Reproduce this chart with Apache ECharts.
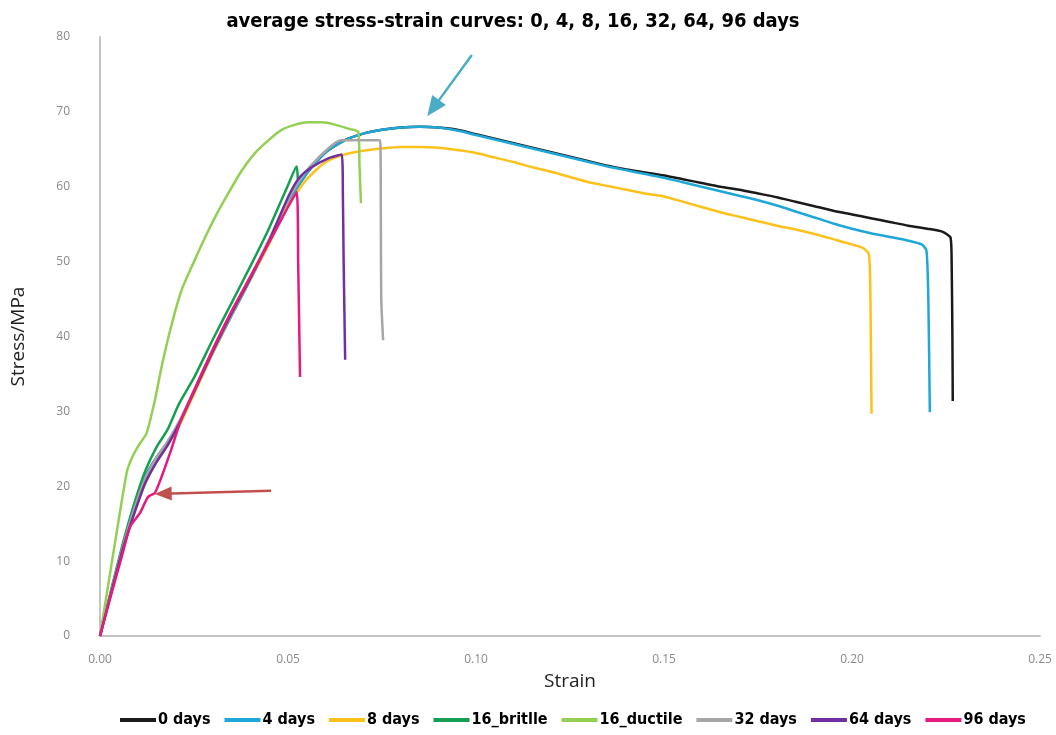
<!DOCTYPE html>
<html>
<head>
<meta charset="utf-8">
<script src="https://cdn.jsdelivr.net/npm/echarts@6/dist/echarts.min.js"></script>
<style>
  html, body { margin: 0; padding: 0; background: #fff; }
  #main { width: 1056px; height: 735px; }
</style>
</head>
<body>
<div id="main"></div>
<script>
// series names and colours
var seriesNames = ['0 days', '4 days', '8 days', '16_britlle', '16_ductile', '32 days', '64 days', '96 days'];
var seriesColors = ['#1a1a1a', '#1fa7d8', '#fcc21b', '#14a050', '#92cf52', '#a6a6a6', '#7030a0', '#e6197f'];

// strain / stress pairs
var days0 = [[0,0],[0.003,6],[0.006,11.8],[0.009,17],[0.012,21.2],[0.015,23.8],[0.018,25.9],[0.021,28.4],
  [0.025,32.6],[0.03,37.9],[0.035,42.9],[0.04,47.7],[0.045,52.7],[0.05,57.9],[0.055,61.8],[0.06,64.6],
  [0.065,66.2],[0.07,67.1],[0.075,67.6],[0.08,67.9],[0.085,68.0],[0.09,67.9],[0.095,67.6],[0.1,67.0],
  [0.105,66.4],[0.11,65.8],[0.115,65.2],[0.12,64.6],[0.125,64.0],[0.13,63.4],[0.135,62.8],[0.14,62.3],
  [0.145,61.9],[0.15,61.5],[0.155,61.0],[0.16,60.5],[0.165,60.0],[0.17,59.6],[0.175,59.1],[0.18,58.6],
  [0.185,58.0],[0.19,57.4],[0.195,56.8],[0.2,56.3],[0.205,55.8],[0.21,55.3],[0.215,54.8],[0.22,54.4],
  [0.224,54.0],[0.2262,53.2],[0.2265,50],[0.2267,40],[0.2268,31.4]];
var days4 = [[0,0],[0.003,6],[0.006,11.8],[0.009,17],[0.012,21.2],[0.015,23.8],[0.018,25.9],[0.021,28.4],
  [0.025,32.5],[0.03,37.8],[0.035,42.8],[0.04,47.6],[0.045,52.6],[0.05,57.8],[0.055,61.8],[0.06,64.6],
  [0.065,66.2],[0.07,67.1],[0.075,67.6],[0.08,67.9],[0.085,68.0],[0.09,67.9],[0.095,67.5],[0.1,66.9],
  [0.105,66.3],[0.11,65.7],[0.115,65.1],[0.12,64.5],[0.125,63.9],[0.13,63.3],[0.135,62.7],[0.14,62.2],
  [0.145,61.7],[0.15,61.2],[0.155,60.6],[0.16,60.0],[0.165,59.4],[0.17,58.8],[0.175,58.2],[0.18,57.5],
  [0.185,56.7],[0.19,55.9],[0.195,55.1],[0.2,54.4],[0.205,53.8],[0.21,53.3],[0.215,52.8],[0.2185,52.3],
  [0.2198,51.5],[0.2203,45],[0.2207,29.9]];
var days8 = [[0,0],[0.003,5.8],[0.006,11.3],[0.009,16.2],[0.012,20.3],[0.015,23.3],[0.018,25.5],[0.021,28],
  [0.025,32.3],[0.03,37.8],[0.035,43],[0.04,47.7],[0.045,52.4],[0.05,57.5],[0.055,61],[0.06,63.3],
  [0.065,64.3],[0.07,64.8],[0.075,65.1],[0.08,65.3],[0.085,65.3],[0.09,65.2],[0.095,64.9],[0.1,64.5],
  [0.105,63.9],[0.11,63.3],[0.115,62.6],[0.12,62.0],[0.125,61.3],[0.13,60.6],[0.135,60.1],[0.14,59.6],
  [0.145,59.1],[0.15,58.7],[0.155,58.0],[0.16,57.3],[0.165,56.6],[0.17,56.0],[0.175,55.4],[0.18,54.8],
  [0.185,54.3],[0.19,53.7],[0.195,53.0],[0.2,52.3],[0.203,51.8],[0.2045,51.0],[0.2049,45],[0.2052,29.7]];
var brittle16 = [[0,0],[0.003,6.2],[0.006,12.2],[0.009,17.5],[0.012,22],[0.015,25.2],[0.018,27.6],
  [0.021,31],[0.025,34.5],[0.03,39.6],[0.035,44.5],[0.04,49.4],[0.045,54.5],[0.05,60.2],[0.0523,62.7],
  [0.0526,61]];
var ductile16 = [[0,0],[0.0008,2.5],[0.004,12.5],[0.0071,21.8],[0.0085,23.8],[0.0102,25.4],[0.0124,27.1],
  [0.0146,31.5],[0.0164,36],[0.019,41.5],[0.0217,46.2],[0.025,50],[0.028,53.3],[0.031,56.3],[0.0341,59.1],
  [0.0375,62],[0.0412,64.5],[0.045,66.3],[0.0483,67.6],[0.052,68.3],[0.0554,68.6],[0.059,68.6],
  [0.0625,68.3],[0.0665,67.7],[0.0687,67.3],[0.069,63],[0.0694,57.8]];
var days32 = [[0,0],[0.003,6],[0.006,11.8],[0.009,16.8],[0.012,21],[0.015,23.8],[0.018,26],[0.021,28.6],
  [0.025,32.8],[0.03,38.2],[0.035,43.2],[0.04,48],[0.045,53],[0.05,58.3],[0.055,62.2],[0.06,64.8],
  [0.064,66.2],[0.0745,66.2],[0.0747,55],[0.0748,44.9],[0.0753,39.5]];
var days64 = [[0,0],[0.003,5.8],[0.006,11.5],[0.009,16.2],[0.012,20.4],[0.015,23.2],[0.018,25.5],
  [0.021,28.3],[0.025,32.6],[0.03,38],[0.035,43.1],[0.04,47.8],[0.045,52.8],[0.05,58.6],[0.053,61.2],
  [0.0563,62.6],[0.0607,63.8],[0.0643,64.3],[0.0646,58.7],[0.0648,50],[0.0652,36.9]];
var days96 = [[0,0],[0.003,5.6],[0.006,11],[0.008,14.6],[0.0106,16.4],[0.0128,18.6],[0.0146,19.1],
  [0.0164,21.3],[0.019,25],[0.0213,28.5],[0.025,32.8],[0.03,38.3],[0.035,43.4],[0.04,48],[0.045,52.6],
  [0.05,57.3],[0.0523,59.3],[0.0527,50],[0.0532,34.6]];
var allData = [days0, days4, days8, brittle16, ductile16, days32, days64, days96];

// annotation arrows (start, tip) in strain / stress
var blueArrow = [[0.0989, 77.6], [0.0886, 70.5]];
var redArrow = [[0.0455, 19.4], [0.0168, 19.0]];

var narrow = "'Liberation Sans Narrow', 'DejaVu Sans Condensed', sans-serif";
var chart = echarts.init(document.getElementById('main'));

var series = allData.map(function (d, i) {
  return {
    name: seriesNames[i],
    type: 'line',
    data: d,
    showSymbol: false,
    symbol: 'none',
    smooth: 0.2,
    lineStyle: { width: 2.5, color: seriesColors[i] },
    itemStyle: { color: seriesColors[i] },
    animation: false
  };
});
// the arrows ride on the first series
series[0].markLine = {
  silent: true,
  animation: false,
  symbol: ['none', 'triangle'],
  label: { show: false },
  emphasis: { disabled: true },
  data: [
    [{ coord: blueArrow[0], lineStyle: { color: '#4bacc6', width: 2.5, type: 'solid' } },
     { coord: blueArrow[1], symbolSize: [17, 20] }],
    [{ coord: redArrow[0], lineStyle: { color: '#c0504d', width: 2.5, type: 'solid' } },
     { coord: redArrow[1], symbolSize: [14, 17] }]
  ]
};

chart.setOption({
  title: {
    text: 'average stress-strain curves: 0, 4, 8, 16, 32, 64, 96 days',
    left: 508,
    textAlign: 'center',
    top: 7,
    textStyle: { fontFamily: narrow, fontSize: 20, fontWeight: 'bold', color: '#000' }
  },
  legend: {
    bottom: 2,
    left: 115,
    icon: 'rect',
    itemWidth: 36,
    itemHeight: 4,
    itemGap: 14,
    data: seriesNames,
    textStyle: { fontFamily: narrow, fontSize: 16, fontWeight: 'bold', color: '#000', padding: [0, 0, 0, -3] }
  },
  grid: { left: 100, right: 16, top: 37, bottom: 99 },
  xAxis: {
    type: 'value',
    min: 0,
    max: 0.25,
    interval: 0.05,
    name: 'Strain',
    nameLocation: 'middle',
    nameGap: 36,
    nameTextStyle: { fontFamily: 'Open Sans', fontSize: 19, color: '#222' },
    axisLine: { show: true, lineStyle: { color: '#c4c4c4', width: 2 } },
    axisTick: { show: false },
    splitLine: { show: false },
    axisLabel: {
      margin: 18,
      fontFamily: 'Open Sans',
      fontSize: 12,
      color: '#8a8a8a',
      formatter: function (v) { return v.toFixed(2); }
    }
  },
  yAxis: {
    type: 'value',
    min: 0,
    max: 80,
    interval: 10,
    name: 'Stress/MPa',
    nameLocation: 'middle',
    nameGap: 72,
    nameTextStyle: { fontFamily: 'Open Sans', fontSize: 19, color: '#222' },
    axisLine: { show: true, lineStyle: { color: '#c4c4c4', width: 2 } },
    axisTick: { show: false },
    splitLine: { show: false },
    axisLabel: { margin: 30, fontFamily: 'Open Sans', fontSize: 12, color: '#8a8a8a' }
  },
  series: series
});
</script>
</body>
</html>
